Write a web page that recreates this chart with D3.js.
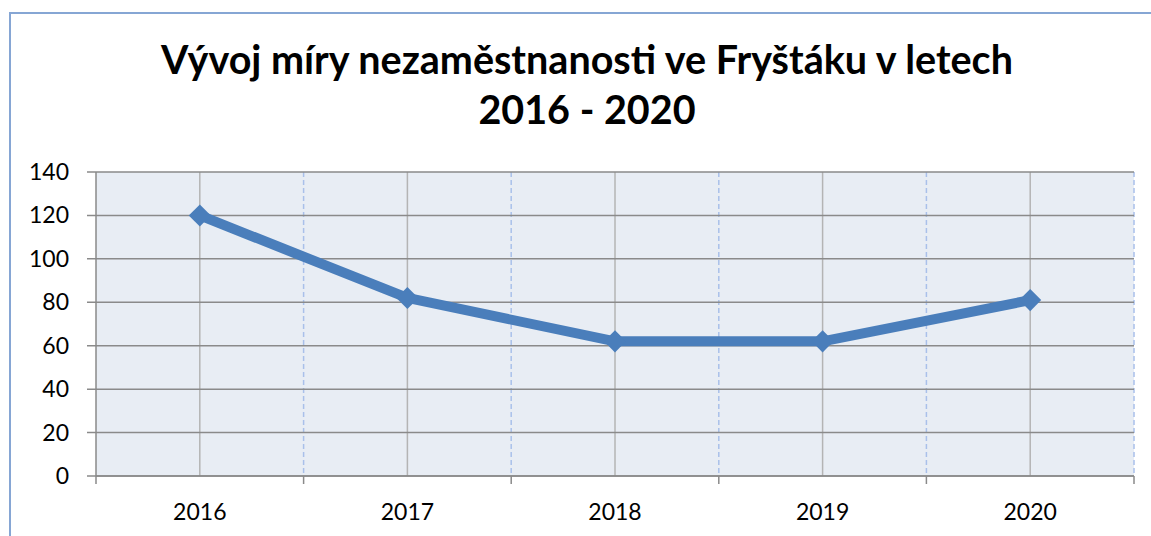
<!DOCTYPE html>
<html><head><meta charset="utf-8">
<script src="https://cdn.jsdelivr.net/npm/d3@7"></script>
<style>body{margin:0;background:#fff}svg{display:block}</style>
</head><body>
<svg id="c" width="1151" height="536"></svg>
<script>
const titleLines = ["Vývoj míry nezaměstnanosti ve Fryštáku v letech", "2016 - 2020"];
const categories = ["2016", "2017", "2018", "2019", "2020"];
const values = [120, 82, 62, 62, 81];
const yTicks = [0, 20, 40, 60, 80, 100, 120, 140];

const svg = d3.select("#c");
const font = "Lato, 'Open Sans', sans-serif";
const L = 96, R = 1134, T = 172, B = 476;

// chart border
svg.append("rect").attr("x", 10).attr("y", 13).attr("width", 1200).attr("height", 600)
  .attr("fill", "#fff").attr("stroke", "#86a6d4").attr("stroke-width", 2);

// title
svg.selectAll("text.title").data(titleLines).enter().append("text")
  .attr("class", "title").attr("x", 587).attr("y", (d, i) => 74 + i * 50)
  .attr("text-anchor", "middle").attr("font-family", font).attr("font-weight", "bold")
  .attr("font-size", 39.5).attr("fill", "#000").text(d => d);

const x = d3.scaleBand().domain(categories).range([L, R]);
const y = d3.scaleLinear().domain([0, 140]).range([B, T]);

svg.append("rect").attr("x", L).attr("y", T).attr("width", R - L).attr("height", B - T).attr("fill", "#e8edf4");

// vertical gridlines: boundaries dashed
const bounds = categories.map(c => x(c) + x.bandwidth());
svg.selectAll("line.vb").data(bounds).enter().append("line")
  .attr("x1", d => d).attr("x2", d => d).attr("y1", T).attr("y2", B)
  .attr("stroke", "#a9c0ea").attr("stroke-width", 1.5).attr("stroke-dasharray", "5,3");
// centers solid
svg.selectAll("line.vc").data(categories).enter().append("line")
  .attr("x1", d => x(d) + x.bandwidth() / 2).attr("x2", d => x(d) + x.bandwidth() / 2)
  .attr("y1", T).attr("y2", B).attr("stroke", "#b4b4b4").attr("stroke-width", 1.5);

// horizontal gridlines
svg.selectAll("line.h").data(yTicks).enter().append("line")
  .attr("x1", L - 9).attr("x2", R).attr("y1", d => y(d)).attr("y2", d => y(d))
  .attr("stroke", "#8a8a8a").attr("stroke-width", 1.5);

// axes lines
svg.append("line").attr("x1", L).attr("x2", L).attr("y1", T).attr("y2", B + 8)
  .attr("stroke", "#8a8a8a").attr("stroke-width", 1.5);
svg.append("line").attr("x1", L).attr("x2", R).attr("y1", B).attr("y2", B)
  .attr("stroke", "#8a8a8a").attr("stroke-width", 1.5);
svg.selectAll("line.xt").data(bounds).enter().append("line")
  .attr("x1", d => d).attr("x2", d => d).attr("y1", B).attr("y2", B + 8)
  .attr("stroke", "#8a8a8a").attr("stroke-width", 1.5);

// y labels
svg.selectAll("text.yl").data(yTicks).enter().append("text")
  .attr("x", 69).attr("y", d => y(d) + 8).attr("text-anchor", "end")
  .attr("font-family", font).attr("font-size", 23).attr("fill", "#000").text(d => d);
// x labels
svg.selectAll("text.xl").data(categories).enter().append("text")
  .attr("x", d => x(d) + x.bandwidth() / 2).attr("y", 520).attr("text-anchor", "middle")
  .attr("font-family", font).attr("font-size", 23).attr("fill", "#000").text(d => d);

// line
const line = d3.line().x((d, i) => x(categories[i]) + x.bandwidth() / 2).y(d => y(d));
svg.append("path").datum(values).attr("d", line).attr("fill", "none")
  .attr("stroke", "#4a7ebb").attr("stroke-width", 10).attr("stroke-linejoin", "round");
svg.selectAll("path.m").data(values).enter().append("path")
  .attr("transform", (d, i) => `translate(${x(categories[i]) + x.bandwidth() / 2},${y(d)})`)
  .attr("d", d3.symbol().type(d3.symbolDiamond2).size(310)).attr("fill", "#4a7ebb");
</script>
</body></html>
